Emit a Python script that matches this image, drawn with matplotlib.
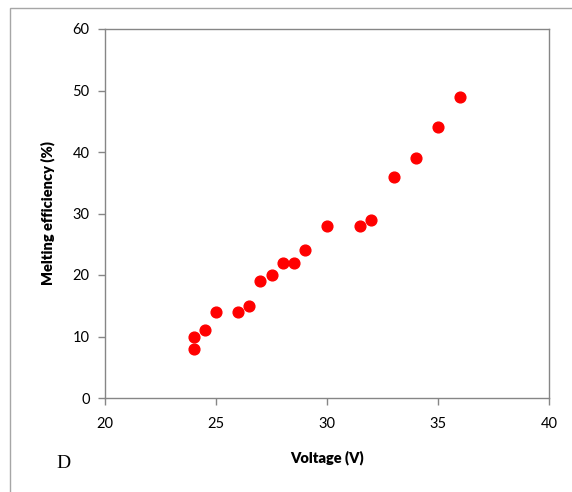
import matplotlib
matplotlib.use("Agg")
import matplotlib.pyplot as plt
from matplotlib.patches import Rectangle

# data
voltage = [24, 24, 24.5, 25, 26, 26.5, 27, 27.5, 28, 28.5, 29, 30, 31.5, 32, 33, 34, 35, 36]
efficiency = [8, 10, 11, 14, 14, 15, 19, 20, 22, 22, 24, 28, 28, 29, 36, 39, 44, 49]
x_ticks = [20, 25, 30, 35, 40]
y_ticks = [0, 10, 20, 30, 40, 50, 60]

plt.rcParams['font.family'] = ['Lato', 'DejaVu Sans']

fig = plt.figure(figsize=(5.72, 4.92), dpi=100)
ax = fig.add_axes([105 / 572, 1 - 398 / 492, 444 / 572, 369 / 492])

# outer frame round the whole chart
fig.patches.append(Rectangle((10 / 572, -0.01), 1.0, 1 - 8 / 492 + 0.01,
                             transform=fig.transFigure, fill=False,
                             edgecolor='#a6a6a6', linewidth=1.0))

ax.scatter(voltage, efficiency, s=60, color='#ff0000', edgecolors='#ff0000', zorder=3)

ax.set_xlim(20, 40)
ax.set_ylim(0, 60)
ax.set_xticks(x_ticks)
ax.set_yticks(y_ticks)

for sp in ax.spines.values():
    sp.set_color('#868686')
    sp.set_linewidth(1.0)

ax.tick_params(axis='both', direction='out', length=5, width=1, color='#868686',
               labelsize=10.5, labelcolor='black')
ax.tick_params(axis='x', pad=9)
ax.tick_params(axis='y', pad=6)

ax.set_xlabel("Voltage (V)", fontsize=10.5, fontweight='heavy', labelpad=14)
ax.set_ylabel("Melting efficiency (%)", fontsize=10.5, fontweight='heavy', labelpad=13)

fig.text(56 / 572, 1 - 464 / 492, "D", fontsize=14, family='Liberation Serif',
         ha='left', va='center')

fig.savefig("out.png", dpi=100)
